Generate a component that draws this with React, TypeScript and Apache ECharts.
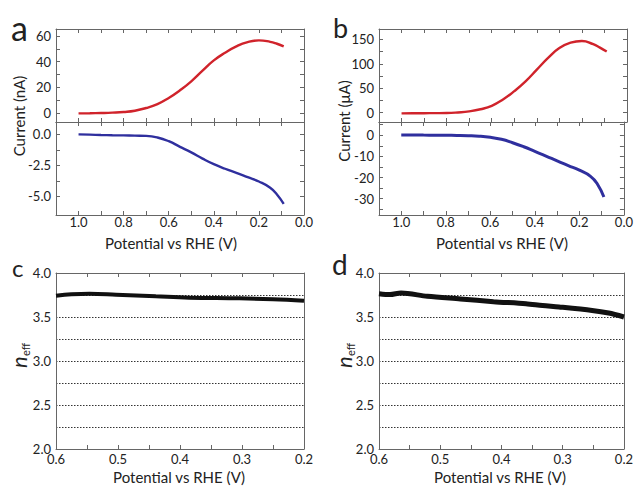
import React, { useEffect, useRef } from "react";
import * as echarts from "echarts";

// Panels a/b: potential (V) and currents
const potentialAB = [1.0, 0.95, 0.9, 0.85, 0.8, 0.75, 0.7, 0.65, 0.6, 0.55, 0.5, 0.45, 0.4, 0.35, 0.3, 0.25, 0.2, 0.15, 0.12, 0.09];
const ringCurrentA = [-0.3, -0.2, 0, 0.3, 0.8, 1.8, 3.9, 7, 11.7, 17.7, 24.7, 33, 41, 47, 52, 55.3, 56.6, 55.5, 54, 52];
const diskCurrentA = [0, -0.02, -0.05, -0.07, -0.08, -0.1, -0.12, -0.25, -0.55, -1.0, -1.45, -1.95, -2.4, -2.77, -3.1, -3.45, -3.8, -4.3, -4.85, -5.6];
const ringCurrentB = [-1.4, -1.2, -1.0, -0.9, -0.7, 0.5, 2.7, 7, 14, 27, 44, 64, 88, 112, 132, 143, 146.5, 140, 133, 125];
const diskCurrentB = [0.2, 0.2, 0.1, 0.05, 0, -0.05, -0.16, -0.4, -0.95, -1.9, -3.5, -5.4, -7.6, -9.8, -12.1, -14.3, -16.5, -19.4, -22.9, -29.2];

// Panels c/d: n_eff
const potentialC = [0.6, 0.575, 0.546, 0.503, 0.439, 0.385, 0.304, 0.25, 0.2];
const nEffC = [3.742, 3.758, 3.765, 3.754, 3.735, 3.72, 3.712, 3.701, 3.685];
const potentialD = [0.6, 0.582, 0.564, 0.521, 0.467, 0.413, 0.36, 0.333, 0.306, 0.252, 0.225, 0.2];
const nEffD = [3.765, 3.755, 3.773, 3.735, 3.705, 3.674, 3.651, 3.63, 3.614, 3.575, 3.545, 3.5];

// Tick values
const xTicksAB = [0, 0.1, 0.2, 0.3, 0.4, 0.5, 0.6, 0.7, 0.8, 0.9, 1.0];
const xLabelsAB = [0, 0.2, 0.4, 0.6, 0.8, 1.0];
const yTicksATop = [0, 10, 20, 30, 40, 50, 60];
const yLabelsATop = [0, 20, 40, 60];
const yTicksABot = [0, -1.25, -2.5, -3.75, -5];
const yLabelsABot = [0, -2.5, -5];
const yTicksBTop = [0, 25, 50, 75, 100, 125, 150];
const yLabelsBTop = [0, 50, 100, 150];
const yTicksBBot = [5, 0, -5, -10, -15, -20, -25, -30, -35];
const yLabelsBBot = [0, -10, -20, -30];
const xTicksCD = [0.2, 0.25, 0.3, 0.35, 0.4, 0.45, 0.5, 0.55, 0.6];
const xLabelsCD = [0.2, 0.3, 0.4, 0.5, 0.6];
const yLabelsCD = [2.0, 2.5, 3.0, 3.5, 4.0];

const FONT = "Lato";
const AXIS_COLOR = "#666";
const TEXT_COLOR = "#222";
const RED = "#d0232b";
const BLUE = "#2f2f9e";

const pairs = (xs: number[], ys: number[]) => xs.map((x, i) => [x, ys[i]]);

function makeX(gridIndex: number, min: number, max: number, ticks: number[], labels: number[] | null, fmt: (v: number) => string, margin = 2) {
  const base = {
    type: "value",
    gridIndex,
    min,
    max,
    inverse: true,
    splitLine: { show: false },
    axisLine: { show: true, onZero: false, lineStyle: { color: AXIS_COLOR, width: 1 } },
    axisTick: { show: true, inside: true, length: 4, customValues: ticks, lineStyle: { color: AXIS_COLOR } },
  };
  return [
    {
      ...base,
      position: "bottom",
      axisLabel: labels
        ? { show: true, customValues: labels, formatter: fmt, color: TEXT_COLOR, fontFamily: FONT, fontSize: 13, lineHeight: 10, margin }
        : { show: false },
    },
    { ...base, position: "top", axisLabel: { show: false } },
  ];
}

function makeY(gridIndex: number, min: number, max: number, ticks: number[] | null, labels: number[], fmt: (v: number) => string, extra: any = {}) {
  const base = {
    type: "value",
    gridIndex,
    min,
    max,
    axisLine: { show: true, onZero: false, lineStyle: { color: AXIS_COLOR, width: 1 } },
    axisTick: ticks
      ? { show: true, inside: true, length: 4, customValues: ticks, lineStyle: { color: AXIS_COLOR } }
      : { show: false },
    splitLine: { show: false },
    ...extra,
  };
  return [
    {
      ...base,
      position: "left",
      axisLabel: { show: true, customValues: labels, formatter: fmt, color: TEXT_COLOR, fontFamily: FONT, fontSize: 13, lineHeight: 10, margin: 5 },
    },
    { ...base, position: "right", splitLine: { show: false }, axisLabel: { show: false } },
  ];
}

const f1 = (v: number) => v.toFixed(1);
const f0 = (v: number) => String(Math.round(v));

export default function App() {
  const ref = useRef<HTMLDivElement>(null);
  useEffect(() => {
    if (!ref.current) return;
    const chart = echarts.init(ref.current, null, { renderer: "svg" });
    const grids = [
      { left: 56, top: 29, width: 248, height: 93 },
      { left: 56, top: 122, width: 248, height: 93 },
      { left: 379, top: 29, width: 248, height: 93 },
      { left: 379, top: 122, width: 248, height: 93 },
      { left: 56, top: 273, width: 248, height: 176 },
      { left: 379, top: 273, width: 248, height: 176 },
    ];
    const dotted = { show: true, lineStyle: { color: "#333", width: 1, type: [1.5, 1.5] } };
    const xAxis = [
      ...makeX(0, 0, 1.1, xTicksAB, null, f1),
      ...makeX(1, 0, 1.1, xTicksAB, xLabelsAB, f1),
      ...makeX(2, 0, 1.1, xTicksAB, null, f1),
      ...makeX(3, 0, 1.1, xTicksAB, xLabelsAB, f1),
      ...makeX(4, 0.2, 0.6, xTicksCD, xLabelsCD, f1, 5),
      ...makeX(5, 0.2, 0.6, xTicksCD, xLabelsCD, f1, 5),
    ];
    const yAxis = [
      ...makeY(0, -7, 65.5, yTicksATop, yLabelsATop, f0),
      ...makeY(1, -6.5, 1.0, yTicksABot, yLabelsABot, f1),
      ...makeY(2, -19, 171, yTicksBTop, yLabelsBTop, f0),
      ...makeY(3, -37.7, 6.3, yTicksBBot, yLabelsBBot, f0),
      ...makeY(4, 2, 4, null, yLabelsCD, f1, { interval: 0.25, splitLine: dotted }),
      ...makeY(5, 2, 4, null, yLabelsCD, f1, { interval: 0.25, splitLine: dotted }),
    ];
    const line = (g: number, data: number[][], color: string, width: number, smooth: boolean | number = true) => ({
      type: "line",
      xAxisIndex: 2 * g,
      yAxisIndex: 2 * g,
      data,
      showSymbol: false,
      smooth,
      lineStyle: { color, width },
      z: 3,
    });
    const series = [
      line(0, pairs(potentialAB, ringCurrentA), RED, 2.4),
      line(1, pairs(potentialAB, diskCurrentA), BLUE, 2.4),
      line(2, pairs(potentialAB, ringCurrentB), RED, 2.4),
      line(3, pairs(potentialAB, diskCurrentB), BLUE, 3),
      line(4, pairs(potentialC, nEffC), "#111", 4, 0.4),
      line(5, pairs(potentialD, nEffD), "#111", 5, 0.3),
    ];
    const txt = (text: string, x: number, y: number, size: number, opts: any = {}) => ({
      type: "text",
      x,
      y,
      style: {
        text,
        fontFamily: FONT,
        fontSize: size,
        fill: TEXT_COLOR,
        textAlign: opts.align || "center",
        textVerticalAlign: "middle",
        fontStyle: opts.italic ? "italic" : "normal",
      },
      rotation: opts.rotation || 0,
    });
    const neff = (cx: number, cy: number) => ({
      type: "group",
      x: cx,
      y: cy,
      rotation: Math.PI / 2,
      children: [
        txt("n", -12, 0, 22, { align: "left", italic: true }),
        txt("eff", 0, 7, 11, { align: "left" }),
      ],
    });
    const graphic = [
      txt("a", 11, 27, 34, { align: "left" }),
      txt("b", 333, 27, 27, { align: "left" }),
      txt("c", 12, 267, 24, { align: "left" }),
      txt("d", 332, 264, 28, { align: "left" }),
      txt("Current (nA)", 19, 116, 15, { rotation: Math.PI / 2 }),
      txt("Current (\u03bcA)", 344, 121, 15, { rotation: Math.PI / 2 }),
      txt("Potential vs RHE (V)", 171, 243, 15),
      txt("Potential vs RHE (V)", 502, 243, 15),
      txt("Potential vs RHE (V)", 179, 477, 15),
      txt("Potential vs RHE (V)", 500, 477, 15),
      neff(18, 356),
      neff(343, 356),
    ];
    chart.setOption({
      animation: false,
      backgroundColor: "#fff",
      grid: grids,
      xAxis,
      yAxis,
      series,
      graphic,
    });
    return () => chart.dispose();
  }, []);
  return <div ref={ref} style={{ position: "absolute", left: 0, top: 0, width: 636, height: 486 }} />;
}
